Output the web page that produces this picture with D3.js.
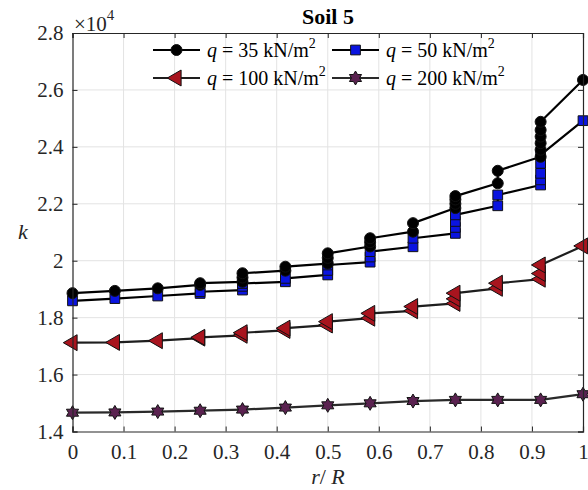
<!DOCTYPE html>
<html>
<head>
<meta charset="utf-8">
<script src="https://cdn.jsdelivr.net/npm/d3@7"></script>
<style>
  html, body { margin: 0; padding: 0; background: #fff; }
  svg { display: block; }
  text { font-family: "Liberation Serif", "Times New Roman", serif; }
</style>
</head>
<body>
<svg id="chart" width="588" height="490"></svg>
<script>
// ---- data (k values in units of 10^4) ----
const rR = [0, 0.083, 0.167, 0.25, 0.333, 0.417, 0.5, 0.583, 0.667, 0.75, 0.833, 0.917, 1];

const k35 = [[1.886], [1.894], [1.903], [1.915, 1.921], [1.926, 1.941, 1.956], [1.965, 1.979],
  [1.990, 2.010, 2.026], [2.050, 2.065, 2.079], [2.102, 2.132], [2.185, 2.200, 2.215, 2.227],
  [2.272, 2.316], [2.365, 2.390, 2.413, 2.436, 2.459, 2.488], [2.635]];

const k50 = [[1.859], [1.867], [1.876], [1.885, 1.891], [1.897, 1.910, 1.920], [1.926, 1.938],
  [1.950, 1.966, 1.985], [1.995, 2.013, 2.032], [2.049, 2.079], [2.096, 2.117, 2.138, 2.161],
  [2.193, 2.231], [2.266, 2.284, 2.307, 2.342, 2.372], [2.492]];

const k100 = [[1.712], [1.713], [1.719], [1.728, 1.731], [1.738, 1.747], [1.755, 1.763],
  [1.774, 1.786], [1.798, 1.815], [1.824, 1.839], [1.850, 1.866, 1.886],
  [1.903, 1.921], [1.935, 1.955, 1.985], [2.052]];

const k200 = [[1.466], [1.467], [1.470], [1.473], [1.477], [1.484],
  [1.492], [1.499], [1.507], [1.511], [1.511], [1.511], [1.531]];

const seriesNames = ["35", "50", "100", "200"];
const xTicks = [0, 0.1, 0.2, 0.3, 0.4, 0.5, 0.6, 0.7, 0.8, 0.9, 1];
const yTicks = [1.4, 1.6, 1.8, 2.0, 2.2, 2.4, 2.6, 2.8];

// ---- layout ----
const svg = d3.select("#chart");
const L = 72.5, R = 583, T = 33, B = 431.5;
const x = d3.scaleLinear().domain([0, 1]).range([L, R]);
const y = d3.scaleLinear().domain([1.4, 2.8]).range([B, T]);
const axisColor = "#262626";
const FONT = '"Liberation Serif", "Times New Roman", serif';

svg.append("rect").attr("width", 588).attr("height", 490).attr("fill", "#fff");

// grid
const grid = svg.append("g").attr("stroke", "#e3e3e3").attr("stroke-width", 1);
grid.selectAll(".gx").data(xTicks.slice(1, -1)).join("line")
  .attr("x1", d => x(d)).attr("x2", d => x(d)).attr("y1", T).attr("y2", B);
grid.selectAll(".gy").data(yTicks.slice(1, -1)).join("line")
  .attr("y1", d => y(d)).attr("y2", d => y(d)).attr("x1", L).attr("x2", R);

// markers
function hexagram(r) {
  const pts = [];
  const ri = r / Math.sqrt(3);
  for (let i = 0; i < 12; i++) {
    const a = -Math.PI / 2 + i * Math.PI / 6;
    const rr = i % 2 === 0 ? r : ri;
    pts.push([rr * Math.cos(a), rr * Math.sin(a)]);
  }
  return "M" + pts.map(p => p[0].toFixed(2) + "," + p[1].toFixed(2)).join("L") + "Z";
}
const styles = [
  { data: k35, line: "#000", fill: "#000", marker: d3.symbol(d3.symbolCircle, 95)(), rot: 0 },
  { data: k50, line: "#000", fill: "#0a14e0", marker: d3.symbol(d3.symbolSquare, 95)(), rot: 0 },
  { data: k100, line: "#1e1e1e", fill: "#a8141e", marker: d3.symbol(d3.symbolTriangle, 110)(), rot: -90 },
  { data: k200, line: "#2a2a2a", fill: "#5a2250", marker: hexagram(7), rot: 0 }
];

const lineGen = d3.line().x(d => x(d[0])).y(d => y(d[1]));

// draw series in reverse so first series is on top
styles.slice().reverse().forEach(s => {
  const pts = [];
  s.data.forEach((stack, i) => stack.forEach(v => pts.push([rR[i], v])));
  const g = svg.append("g");
  g.append("path").datum(pts).attr("d", lineGen)
    .attr("fill", "none").attr("stroke", s.line).attr("stroke-width", 2.2)
    .attr("stroke-linejoin", "round");
  g.selectAll("path.m").data(pts).join("path").attr("class", "m")
    .attr("d", s.marker)
    .attr("transform", d => `translate(${x(d[0])},${y(d[1])}) rotate(${s.rot})`)
    .attr("fill", s.fill).attr("stroke", "#111").attr("stroke-width", 1);
});

// axes (box, inward ticks)
const fmtX = d => String(+d.toFixed(1));
const fmtY = d => String(+d.toFixed(1));
const ax = [
  svg.append("g").attr("transform", `translate(0,${B})`)
    .call(d3.axisBottom(x).tickValues(xTicks).tickFormat(fmtX).tickSize(-5).tickPadding(13)),
  svg.append("g").attr("transform", `translate(0,${T})`)
    .call(d3.axisTop(x).tickValues(xTicks).tickFormat("").tickSize(-5)),
  svg.append("g").attr("transform", `translate(${L},0)`)
    .call(d3.axisLeft(y).tickValues(yTicks).tickFormat(fmtY).tickSize(-5).tickPadding(9)),
  svg.append("g").attr("transform", `translate(${R},0)`)
    .call(d3.axisRight(y).tickValues(yTicks).tickFormat("").tickSize(-5))
];
ax.forEach(g => {
  g.attr("font-family", FONT).attr("font-size", 21);
  g.select(".domain").attr("stroke", axisColor).attr("stroke-width", 1.2);
  g.selectAll(".tick line").attr("stroke", axisColor);
  g.selectAll(".tick text").attr("fill", axisColor)
    .style("font-family", FONT).style("font-size", "21px");
});

// exponent label
const ex = svg.append("text").attr("x", 74).attr("y", 31).attr("fill", axisColor)
  .style("font-family", FONT).style("font-size", "21px");
ex.append("tspan").text("\u00d710");
ex.append("tspan").attr("dy", -11).style("font-size", "15px").text("4");

// title
svg.append("text").attr("x", 328).attr("y", 24).attr("text-anchor", "middle")
  .style("font-family", FONT).style("font-size", "22px").style("font-weight", "bold")
  .attr("fill", "#000").text("Soil 5");

// axis labels
svg.append("text").attr("x", 23).attr("y", 239).attr("text-anchor", "middle")
  .style("font-family", FONT).style("font-size", "22px").style("font-style", "italic")
  .attr("fill", axisColor).text("k");
const xl = svg.append("text").attr("x", 328).attr("y", 484).attr("text-anchor", "middle")
  .style("font-family", FONT).style("font-size", "22px").attr("fill", axisColor);
xl.append("tspan").style("font-style", "italic").text("r");
xl.append("tspan").text("/ ");
xl.append("tspan").style("font-style", "italic").text("R");

// legend (no box)
const legPos = [[153, 50], [332, 50], [153, 78], [332, 78]];
styles.forEach((s, i) => {
  const [lx, ly] = legPos[i];
  const g = svg.append("g");
  g.append("line").attr("x1", lx).attr("x2", lx + 47).attr("y1", ly).attr("y2", ly)
    .attr("stroke", s.line).attr("stroke-width", 2.2);
  g.append("path").attr("d", s.marker)
    .attr("transform", `translate(${lx + 23.5},${ly}) rotate(${s.rot})`)
    .attr("fill", s.fill).attr("stroke", "#111").attr("stroke-width", 1);
  const t = g.append("text").attr("x", lx + 54).attr("y", ly + 7)
    .style("font-family", FONT).style("font-size", "20px").attr("fill", "#000");
  t.append("tspan").style("font-style", "italic").text("q");
  t.append("tspan").text(` = ${seriesNames[i]} kN/m`);
  t.append("tspan").attr("dy", -9).style("font-size", "14px").text("2");
});
</script>
</body>
</html>
